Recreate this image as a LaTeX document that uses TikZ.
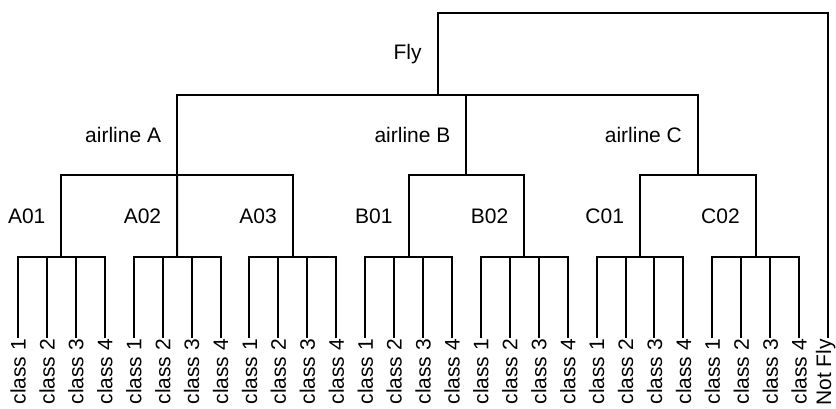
\documentclass[tikz,border=0pt]{standalone}
\usepackage{fontspec}
\setmainfont{Liberation Sans}
\usetikzlibrary{calc}

\tikzset{
  leaf/.style={rotate=90, anchor=east, inner sep=0pt, text depth=0pt},
  lbl/.style={anchor=east, inner sep=0pt}
}

\begin{document}
\begin{tikzpicture}[x=0.5pt, y=-0.5pt, line width=1pt,
    font=\fontsize{10.5}{12}\selectfont]
  \useasboundingbox (0,0) rectangle (836,408);
  % Junctions
  \coordinate (root) at (437.5,13);
  \coordinate (fly) at (437.5,95);
  \coordinate (airA) at (177.1,175);
  \coordinate (airB) at (466.4,175);
  \coordinate (airC) at (697.9,175);
  % Classes under each flight
  \foreach \g/\n in {0/A01,1/A02,2/A03,3/B01,4/B02,5/C01,6/C02}{
    \coordinate (\n) at ({61.4+115.72*\g},257);
    \foreach \k in {1,...,4}{
      \node[leaf] (\n-\k) at ({18+28.93*(4*\g+\k-1)},338) {class \k};
      \draw (\n) -| (\n-\k.east);
    }
  }
  \coordinate (nf) at (828,338);
  \node[leaf] (notfly) at (823.5,338) {Not Fly};
  % Flights
  \draw (airA) -| (A01);
  \draw (airA) -- (A02);
  \draw (airA) -| (A03);
  \draw (airB) -| (B01);
  \draw (airB) -| (B02);
  \draw (airC) -| (C01);
  \draw (airC) -| (C02);
  % Airlines
  \draw (fly) -| (airA);
  \draw (fly) -| (airB);
  \draw (fly) -| (airC);
  \draw (fly) -- (root) -| (nf);
  % Labels
  \node[lbl] (lfly) at ($(fly)+(-15,-41)$) {Fly};
  \node[lbl] (lairA) at ($(airA)+(-15,-40)$) {airline A};
  \node[lbl] (lairB) at ($(airB)+(-15,-40)$) {airline B};
  \node[lbl] (lairC) at ($(airC)+(-15,-40)$) {airline C};
  \foreach \n in {A01,A02,A03,B01,B02,C01,C02}
    \node[lbl] (l\n) at ($(\n)+(-15,-41)$) {\n};
\end{tikzpicture}
\end{document}
